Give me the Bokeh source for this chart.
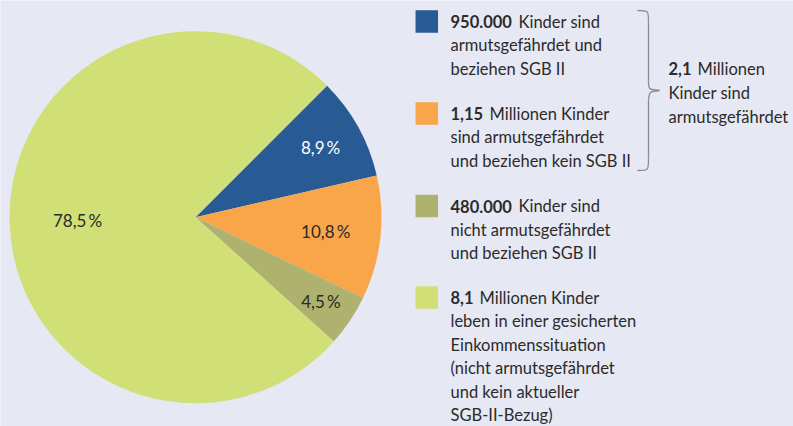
import math
from bokeh.plotting import figure
from bokeh.models import Range1d
from bokeh.core.properties import value
from bokeh.embed import file_html
from bokeh.resources import INLINE

# ---- data ----
counts = [950000, 1150000, 480000, 8100000]
pct_labels = ["8,9\u2009%", "10,8\u2009%", "4,5\u2009%", "78,5\u2009%"]
bold_parts = ["950.000", "1,15", "480.000", "8,1"]
legend_lines = [
    ["Kinder sind", "armutsgefährdet und", "beziehen SGB II"],
    ["Millionen Kinder", "sind armutsgefährdet", "und beziehen kein SGB II"],
    ["Kinder sind", "nicht armutsgefährdet", "und beziehen SGB II"],
    ["Millionen Kinder", "leben in einer gesicherten", "Einkommenssituation",
     "(nicht armutsgefährdet", "und kein aktueller", "SGB-II-Bezug)"],
]
brace_bold = "2,1"
brace_lines = ["Millionen", "Kinder sind", "armutsgefährdet"]

# ---- style ----
colors = ["#285a93", "#f9a54a", "#afb26e", "#d0df76"]
label_colors = ["#ffffff", "#2a2a2a", "#2a2a2a", "#2a2a2a"]
BG = "#e6e8f3"
TXT = "#2b2b2b"
FONT = "Lato"
W, H = 793, 426
FS = "16.5px"


def Y(img_y):
    return H - img_y


p = figure(width=W, height=H, output_backend="svg", toolbar_location=None,
           x_range=Range1d(0, W), y_range=Range1d(0, H),
           min_border=0, border_fill_color=BG, background_fill_color=BG,
           outline_line_color=None)
p.axis.visible = False
p.grid.visible = False

# ---- pie ----
cx, cy, r = 195, Y(216.7), 186
total = sum(counts)
start = math.radians(45)
starts, ends, mids = [], [], []
a = start
for c in counts:
    sweep = 2 * math.pi * c / total
    starts.append(a)
    ends.append(a - sweep)
    mids.append(a - sweep / 2)
    a -= sweep
p.wedge(x=[cx] * 4, y=[cy] * 4, radius=r, start_angle=starts, end_angle=ends,
        direction="clock", fill_color=colors, line_color=None)

label_r = [143, 131, 151, 118]
lx = [cx + lr * math.cos(m) for lr, m in zip(label_r, mids)]
ly = [cy + lr * math.sin(m) for lr, m in zip(label_r, mids)]
p.text(x=lx, y=ly, text=pct_labels, text_color=label_colors,
       text_font=value(FONT), text_font_size="17px", text_align="center",
       text_baseline="middle")

# ---- legend ----
sq_x = 426.3
item_y = [21, 113, 205.5, 297]
line_h = 23.5
text_x = 450
bold_w = [68, 39, 68, 29]
p.rect(x=[sq_x] * 4, y=[Y(v) for v in item_y], width=22.5, height=22.5,
       fill_color=colors, line_color=None)
p.text(x=[text_x] * 4, y=[Y(v) for v in item_y], text=bold_parts,
       text_color=TXT, text_font=value(FONT), text_font_style="bold",
       text_font_size=FS, text_baseline="middle")
xs, ys, ts = [], [], []
for i, lines in enumerate(legend_lines):
    for j, t in enumerate(lines):
        xs.append(text_x + (bold_w[i] if j == 0 else 0))
        ys.append(Y(item_y[i] + j * line_h))
        ts.append(t)
p.text(x=xs, y=ys, text=ts, text_color=TXT, text_font=value(FONT),
       text_font_size=FS, text_baseline="middle")

# ---- brace ----
bc = "#8c8c8c"
p.bezier(x0=[637, 648, 659, 648], y0=[Y(10), Y(81), Y(90), Y(159)],
         x1=[648, 659, 648, 637], y1=[Y(21), Y(90), Y(99), Y(170)],
         cx0=[648, 648, 649, 648], cy0=[Y(10), Y(89), Y(91), Y(170)],
         cx1=[648, 648, 649, 648], cy1=[Y(10), Y(89), Y(91), Y(170)],
         line_color=bc, line_width=1.3)
p.segment(x0=[648, 648], y0=[Y(21), Y(99)], x1=[648, 648], y1=[Y(81), Y(159)],
          line_color=bc, line_width=1.3)

bx = 668
by = [68.3, 92, 116]
p.text(x=[bx], y=[Y(by[0])], text=[brace_bold], text_color=TXT,
       text_font=value(FONT), text_font_style="bold", text_font_size=FS,
       text_baseline="middle")
p.text(x=[bx + 29, bx, bx], y=[Y(v) for v in by], text=brace_lines,
       text_color=TXT, text_font=value(FONT), text_font_size=FS,
       text_baseline="middle")

html = file_html(p, INLINE)
html = html.replace("<body>", '<body style="background:%s">' % BG, 1)
open("out.html", "w").write(html)
